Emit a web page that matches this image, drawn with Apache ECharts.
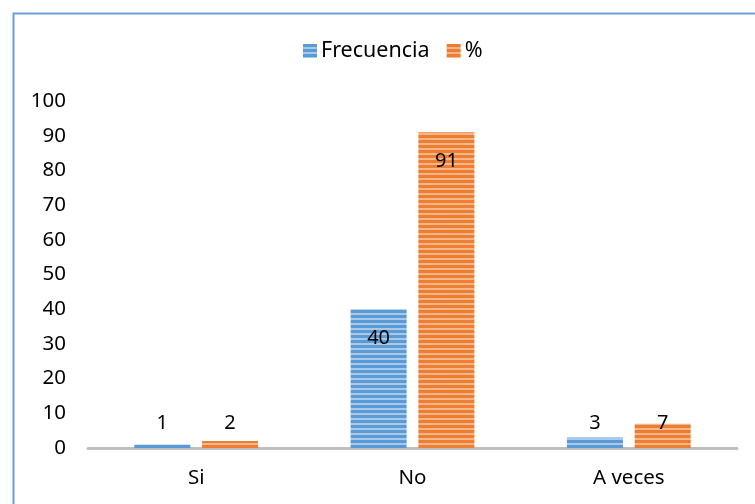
<!DOCTYPE html>
<html>
<head>
<meta charset="utf-8">
<script src="https://cdn.jsdelivr.net/npm/echarts@6/dist/echarts.min.js"></script>
<style>
  html, body { margin: 0; padding: 0; background: #fff; }
  #chart { width: 755px; height: 504px; }
</style>
</head>
<body>
<div id="chart"></div>
<script>
// Survey answers and their counts / percentages
const categories = ['Si', 'No', 'A veces'];
const frecuencia = [1, 40, 3];
const porcentaje = [2, 91, 7];
const yTicks = { min: 0, max: 100, interval: 10 };

// Horizontal striped fill for the bars
function stripes(dark, light) {
  const c = document.createElement('canvas');
  c.width = 4; c.height = 5;
  const g = c.getContext('2d');
  g.fillStyle = dark; g.fillRect(0, 0, 4, 5);
  g.fillStyle = light; g.fillRect(0, 3, 4, 2);
  return { image: c, repeat: 'repeat' };
}

const FONT = '"Noto Sans", "Open Sans", sans-serif';
const labelBase = { show: true, color: '#000', fontSize: 20, fontFamily: FONT };

// Tall bars carry the value just inside their top; short ones keep it above the base line
function withLabels(values) {
  return values.map(v => ({
    value: v,
    label: v >= 15
      ? Object.assign({}, labelBase, { position: 'insideTop', distance: 19 })
      : Object.assign({}, labelBase, { position: 'insideBottom', distance: 15 })
  }));
}

const chart = echarts.init(document.getElementById('chart'), null, { renderer: 'canvas' });
chart.setOption({
  backgroundColor: '#fff',
  animation: false,
  textStyle: { fontFamily: FONT },
  graphic: [{
    type: 'rect',
    left: 11, top: 11,
    shape: { width: 900, height: 700 },
    style: { fill: 'none', stroke: '#6a9fd8', lineWidth: 2 },
    silent: true
  }],
  legend: {
    top: 35,
    left: 298,
    itemWidth: 14,
    itemHeight: 14,
    itemGap: 17,
    icon: 'rect',
    textStyle: { fontSize: 21.5, color: '#000', fontFamily: FONT, padding: [0, 0, 0, -1] },
    data: ['Frecuencia', '%']
  },
  grid: { left: 88, right: 18, top: 101, bottom: 56, containLabel: false },
  xAxis: {
    type: 'category',
    data: categories,
    axisLine: { lineStyle: { color: '#c0c0c0', width: 3 } },
    axisTick: { show: false },
    axisLabel: { color: '#000', fontSize: 20.5, fontFamily: FONT, margin: 20 }
  },
  yAxis: {
    type: 'value',
    min: yTicks.min, max: yTicks.max, interval: yTicks.interval,
    axisLine: { show: false },
    axisTick: { show: false },
    splitLine: { show: false },
    axisLabel: { color: '#000', fontSize: 20.5, fontFamily: FONT, margin: 22 }
  },
  series: [
    {
      name: 'Frecuencia',
      type: 'bar',
      barWidth: 56,
      barGap: '21%',
      itemStyle: { color: stripes('#5b9bd5', '#a8c9ea') },
      data: withLabels(frecuencia)
    },
    {
      name: '%',
      type: 'bar',
      barWidth: 56,
      barGap: '21%',
      itemStyle: { color: stripes('#ed7d31', '#f6b68c') },
      data: withLabels(porcentaje)
    }
  ]
});
</script>
</body>
</html>
